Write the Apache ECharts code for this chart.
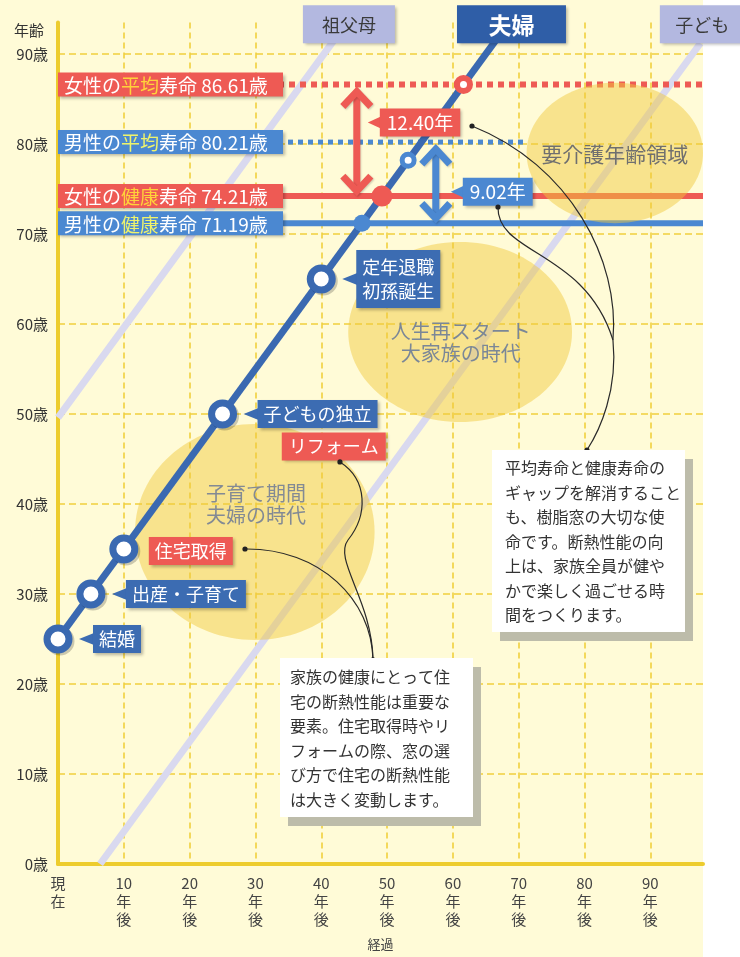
<!DOCTYPE html>
<html lang="ja">
<head>
<meta charset="utf-8">
<title>夫婦のライフステージと寿命</title>
<script src="https://cdn.jsdelivr.net/npm/echarts@6/dist/echarts.min.js"></script>
<style>
html, body { margin: 0; padding: 0; background: #fff; }
#chart { width: 740px; height: 957px; }
</style>
</head>
<body>
<div id="chart"></div>
<script>
// ---------- axis ticks ----------
const yearTicks = [0, 10, 20, 30, 40, 50, 60, 70, 80, 90];
const yearTickLabels = ['現\n在', '10\n年\n後', '20\n年\n後', '30\n年\n後', '40\n年\n後',
  '50\n年\n後', '60\n年\n後', '70\n年\n後', '80\n年\n後', '90\n年\n後'];
const ageTicks = [0, 10, 20, 30, 40, 50, 60, 70, 80, 90];

// ---------- generation lines: [years from now, age] ----------
const grandparentLine = [[0, 49.6], [42.5, 92.1]];
const coupleLine = [[0, 25], [67, 92]];
const childLine = [[6.4, 0], [97.6, 91.2]];
const generationNames = ['祖父母', '夫婦', '子ども'];

// ---------- couple's life events ----------
const eventYears = [0, 5, 10, 25, 40];
const eventAges = [25, 30, 35, 50, 65];
const eventNames = ['結婚', '出産・子育て', '住宅取得', '子どもの独立', '定年退職\n初孫誕生'];
const reformName = 'リフォーム';

// ---------- life expectancy (age) ----------
const lifeNames = ['女性の平均寿命', '男性の平均寿命', '女性の健康寿命', '男性の健康寿命'];
const lifeAges = [86.61, 80.21, 74.21, 71.19];
const gapYears = [12.40, 9.02]; // female, male

// ---------- marks where the couple line crosses the life lines ----------
const crossYears = [46.19, 49.21, 53.2, 61.61];
const crossAges = [71.19, 74.21, 78.2, 86.61];

// ---------- captions ----------
const zoneNames = ['要介護年齢領域', '人生再スタート\n大家族の時代', '子育て期間\n夫婦の時代'];
const noteLines1 = ['平均寿命と健康寿命の', 'ギャップを解消すること', 'も、樹脂窓の大切な使',
  '命です。断熱性能の向', '上は、家族全員が健や', 'かで楽しく過ごせる時', '間をつくります。'];
const noteLines2 = ['家族の健康にとって住', '宅の断熱性能は重要な', '要素。住宅取得時やリ',
  'フォームの際、窓の選', 'び方で住宅の断熱性能', 'は大きく変動します。'];

// ---------- layout & style ----------
const X_MAX = 98, Y_MAX = 93.5;
const FONT = '"Noto Sans CJK JP", "Noto Sans", sans-serif';
const C = {
  bg: '#fffbd7', grid: '#f1d03e', axis: '#edcc2d', couple: '#3a69b1', tag: '#3c6cb2',
  red: '#ee5a54', blue: '#4b88d1', lav: '#d9d9ef', lavTag: '#b3b8e0',
  zone: 'rgba(240,200,60,0.48)', ink: '#333'
};
const shadow = { shadowBlur: 3, shadowColor: 'rgba(0,0,0,0.28)', shadowOffsetX: 2, shadowOffsetY: 2 };

const zoneLayout = [
  { center: [84.6, 79.0], radius: [13.4, 7.8], text: [84.6, 78.9], size: 21, color: '#6f6f6f' },
  { center: [61.1, 59.1], radius: [17.0, 10.0], text: [61.2, 58.0], size: 20, color: '#7b8797' },
  { center: [29.9, 36.9], radius: [18.2, 12.0], text: [30.1, 40.0], size: 20, color: '#838a94' }
];
const arrowYears = [45.4, 57.4];
const gapLabelAges = [82.4, 74.7];
const gapLabelShift = [[11, 23], [15, 27]];
const reformAt = [34.0, 46.4];
const topTagAt = [[44.2, 93.3], [68.9, 93.3], [97.9, 93.3]];
const topTagWidth = [92, 109, 85];
const noteAt = [[65.94, 46.0], [33.73, 22.9]];
const noteSize = [[193, 182], [193, 159]];
const leaderCurves = [
  [[62.90, 82.0], [77.79, 77.67], [85.38, 67.11], [84.32, 58.22]],
  [[66.85, 73.0], [66.70, 67.67], [80.07, 68.22], [84.32, 58.22]],
  [[84.32, 58.22], [85.08, 52.67], [82.35, 48.22], [80.37, 46.0]],
  [[28.41, 35.0], [39.81, 35.11], [47.71, 29.33], [47.86, 22.67]],
  [[42.84, 44.67], [47.10, 42.67], [47.10, 38.78], [44.06, 36.0]],
  [[44.06, 36.0], [41.78, 33.78], [47.71, 29.33], [47.86, 22.67]]
];
const leaderDots = [[62.90, 82.0], [66.85, 73.0], [80.37, 46.0], [28.41, 35.0], [42.84, 44.67], [47.86, 22.67]];

const chart = echarts.init(document.getElementById('chart'));

function hLine(age, x1, color, width, type, z) {
  return {
    type: 'line', data: [[0, age], [x1, age]], symbol: 'none', silent: true, z,
    lineStyle: { color, width, type, cap: 'butt' }
  };
}

// soft zones with their captions
function renderZone(params, api) {
  const z = zoneLayout[params.dataIndex];
  const c = api.coord(z.center);
  const r = api.size(z.radius);
  const t = api.coord(z.text);
  return {
    type: 'group', children: [
      { type: 'ellipse', shape: { cx: c[0], cy: c[1], rx: r[0], ry: r[1] }, style: { fill: C.zone } },
      { type: 'text', style: { x: t[0], y: t[1], text: zoneNames[params.dataIndex], align: 'center',
        verticalAlign: 'middle', fill: z.color, font: `${z.size}px ${FONT}`, lineHeight: z.size + 2 } }
    ]
  };
}

// life-expectancy name plates on the left
function renderLifePlate(params, api) {
  const i = params.dataIndex;
  const p = api.coord([0, lifeAges[i]]);
  const female = i % 2 === 0;
  const name = lifeNames[i];
  const txt = `{w|${name.slice(0, 3)}}{h|${name.slice(3, 5)}}{w|${name.slice(5)} ${lifeAges[i].toFixed(2)}歳}`;
  return {
    type: 'group', children: [
      { type: 'rect', shape: { x: p[0], y: p[1] - 12, width: 225, height: 24 },
        style: Object.assign({ fill: female ? C.red : C.blue }, shadow) },
      { type: 'text', style: { x: p[0] + 6, y: p[1] + 1, text: txt, verticalAlign: 'middle',
        rich: {
          w: { fill: '#fff', fontSize: 19, fontFamily: FONT },
          h: { fill: female ? '#ffd23a' : '#eef36c', fontSize: 19, fontFamily: FONT }
        } } }
    ]
  };
}

function tagText(x, y, text, bg, size, pad) {
  return { type: 'text', style: Object.assign({ x, y, text, align: 'left', verticalAlign: 'middle',
    fill: '#fff', font: `${size}px ${FONT}`, lineHeight: 24, backgroundColor: bg, padding: pad }, shadow) };
}
function pointer(tipX, x, y, color) {
  return { type: 'polygon', shape: { points: [[tipX, y], [x + 1, y - 6], [x + 1, y + 6]] }, style: { fill: color } };
}

// couple event call-outs
function renderEvent(params, api) {
  const i = params.dataIndex;
  const p = api.coord([eventYears[i], eventAges[i]]);
  const plain = i === 2;
  const twoLines = eventNames[i].indexOf('\n') >= 0;
  const bx = p[0] + (plain ? 25 : 35);
  const by = p[1] + (plain ? 2 : 0);
  const kids = [];
  if (!plain) kids.push(pointer(p[0] + 21, bx, by, C.tag));
  kids.push(tagText(bx, by, eventNames[i], plain ? C.red : C.tag, 18, twoLines ? [5, 6] : [2, 6]));
  return { type: 'group', children: kids };
}

function renderReform(params, api) {
  const p = api.coord(reformAt);
  return tagText(p[0], p[1], reformName, C.red, 18, [2, 7]);
}

// double arrows for the gap between average and healthy life expectancy
function renderGap(params, api) {
  const i = params.dataIndex;
  const color = i === 0 ? C.red : C.blue;
  const top = api.coord([arrowYears[i], lifeAges[i]]);
  const bot = api.coord([arrowYears[i], lifeAges[i + 2]]);
  const x = top[0], y1 = top[1] + 7, y2 = bot[1] - 5;
  const lw = 7, hw = 14, hh = 15;
  const ly = api.coord([arrowYears[i], gapLabelAges[i]])[1];
  const sh = gapLabelShift[i];
  const line = (pts) => ({ type: 'polyline', shape: { points: pts },
    style: { stroke: color, lineWidth: lw, fill: null, lineJoin: 'miter',
      shadowBlur: 2, shadowColor: 'rgba(0,0,0,0.2)', shadowOffsetX: 1, shadowOffsetY: 1 } });
  return {
    type: 'group', children: [
      line([[x, y1 + 2], [x, y2 - 2]]),
      line([[x - hw, y1 + hh], [x, y1], [x + hw, y1 + hh]]),
      line([[x - hw, y2 - hh], [x, y2], [x + hw, y2 - hh]]),
      pointer(x + sh[0], x + sh[1], ly, color),
      tagText(x + sh[1], ly, gapYears[i].toFixed(2) + '年', color, 19, [2, 7])
    ]
  };
}

// generation name tags along the top
function renderTopTag(params, api) {
  const i = params.dataIndex;
  const p = api.coord(topTagAt[i]);
  const w = topTagWidth[i], h = 38;
  const main = i === 1;
  return {
    type: 'group', children: [
      { type: 'rect', shape: { x: p[0] - w / 2, y: p[1] - h / 2, width: w, height: h },
        style: Object.assign({ fill: main ? '#2f5ea7' : C.lavTag }, shadow) },
      { type: 'text', style: { x: p[0], y: p[1] + 1, text: generationNames[i], align: 'center', verticalAlign: 'middle',
        fill: main ? '#fff' : '#3a3a3a', font: `${main ? 'bold 23px' : '18px'} ${FONT}` } }
    ]
  };
}

// leader curves from the labels to the notes
function renderLeaders(params, api) {
  const kids = leaderCurves.map((seg) => {
    const q = seg.map((d) => api.coord(d));
    return { type: 'bezierCurve', shape: { x1: q[0][0], y1: q[0][1], cpx1: q[1][0], cpy1: q[1][1],
      cpx2: q[2][0], cpy2: q[2][1], x2: q[3][0], y2: q[3][1] },
      style: { stroke: '#2a2a2a', lineWidth: 1.2, fill: null } };
  });
  leaderDots.forEach((d) => {
    const q = api.coord(d);
    kids.push({ type: 'circle', shape: { cx: q[0], cy: q[1], r: 2.6 }, style: { fill: '#222' } });
  });
  return { type: 'group', children: kids };
}

// explanatory notes
function renderNote(params, api) {
  const i = params.dataIndex;
  const p = api.coord(noteAt[i]);
  const [w, h] = noteSize[i];
  const lines = i === 0 ? noteLines1 : noteLines2;
  return {
    type: 'group', children: [
      { type: 'rect', shape: { x: p[0] + 8, y: p[1] + 9, width: w, height: h }, style: { fill: '#bdbcaa' } },
      { type: 'rect', shape: { x: p[0], y: p[1], width: w, height: h }, style: { fill: '#fff' } },
      { type: 'text', style: { x: p[0] + (i === 0 ? 13 : 10), y: p[1] + (i === 0 ? 6 : 7), text: lines.join('\n'),
        fill: C.ink, font: `16px ${FONT}`, lineHeight: 24.5, verticalAlign: 'top' } }
    ]
  };
}

const idx = (arr) => arr.map((_, k) => [k, 0]);

// soft drop shadow under the round marks, kept separate so the ring stroke stays clean
const markShadow = { color: 'rgba(0,0,0,0.2)', borderWidth: 0, opacity: 1 };

const option = {
  backgroundColor: C.bg,
  animation: false,
  textStyle: { fontFamily: FONT },
  graphic: [{ type: 'rect', z: -10, silent: true, shape: { x: 703, y: 0, width: 37, height: 957 }, style: { fill: '#fff' } }],
  grid: { left: 58, right: 37, top: 22.5, bottom: 93, containLabel: false },
  xAxis: {
    type: 'value', min: 0, max: X_MAX,
    name: '経過', nameLocation: 'middle', nameGap: 74,
    nameTextStyle: { fontSize: 13, color: '#444', fontFamily: FONT },
    axisLine: { show: true, lineStyle: { color: C.axis, width: 4 } },
    axisTick: { show: false, customValues: yearTicks },
    axisLabel: {
      customValues: yearTicks, hideOverlap: false,
      formatter: (v) => { const k = yearTicks.indexOf(v); return k >= 0 ? yearTickLabels[k] : ''; },
      color: '#444', fontSize: 15, lineHeight: 18, margin: 10, verticalAlign: 'top', fontFamily: FONT
    },
    splitLine: { show: true, lineStyle: { color: C.grid, width: 1.6, type: [6, 4] } }
  },
  yAxis: {
    type: 'value', min: 0, max: Y_MAX,
    name: '年齢', nameLocation: 'end', nameGap: 0,
    nameTextStyle: { fontSize: 15, color: C.ink, align: 'right', verticalAlign: 'top', padding: [0, 14, 0, 0], fontFamily: FONT },
    axisLine: { show: true, lineStyle: { color: C.axis, width: 4 } },
    axisTick: { show: false, customValues: ageTicks },
    axisLabel: {
      customValues: ageTicks,
      formatter: (v) => (ageTicks.indexOf(v) >= 0 ? v + '歳' : ''),
      color: C.ink, fontSize: 15, margin: 10, fontFamily: FONT
    },
    splitLine: { show: true, lineStyle: { color: C.grid, width: 1.6, type: [7, 4] } }
  },
  series: [
    { type: 'line', data: grandparentLine, symbol: 'none', silent: true, z: 1, lineStyle: { color: C.lav, width: 7 } },
    { type: 'line', data: childLine, symbol: 'none', silent: true, z: 1, lineStyle: { color: C.lav, width: 7 } },
    hLine(lifeAges[0], X_MAX, C.red, 6, [6, 5], 1),
    hLine(lifeAges[1], 71.3, C.blue, 5, [5, 5], 1),
    hLine(lifeAges[2], X_MAX, C.red, 6, 'solid', 1),
    hLine(lifeAges[3], X_MAX, C.blue, 6, 'solid', 1),
    { type: 'custom', data: idx(zoneNames), renderItem: renderZone, silent: true, z: 2 },
    { type: 'line', data: coupleLine, symbol: 'none', silent: true, z: 3, lineStyle: { color: C.couple, width: 7 } },
    {
      type: 'scatter', z: 4, silent: true, clip: false,
      data: eventYears.map((x, k) => [x, eventAges[k]]),
      symbolSize: 29, symbolOffset: [2, 2], itemStyle: markShadow
    },
    {
      type: 'scatter', z: 4, silent: true, clip: false,
      data: eventYears.map((x, k) => [x, eventAges[k]]),
      symbolSize: 22,
      itemStyle: { color: '#fff', borderColor: C.couple, borderWidth: 7, opacity: 1 }
    },
    {
      type: 'scatter', z: 4, silent: true, clip: false,
      data: crossYears.map((x, k) => {
        const styles = [
          { size: 17, style: { color: C.blue, borderWidth: 0 } },
          { size: 21, style: { color: C.red, borderWidth: 0 } },
          { size: 12, style: { color: '#fff', borderColor: C.blue, borderWidth: 5 } },
          { size: 13, style: { color: '#fff', borderColor: C.red, borderWidth: 6 } }
        ][k];
        return { value: [x, crossAges[k]], symbolSize: styles.size, itemStyle: Object.assign({ opacity: 1 }, styles.style) };
      })
    },
    { type: 'custom', data: idx(lifeNames), renderItem: renderLifePlate, silent: true, z: 5 },
    { type: 'custom', data: idx(eventNames), renderItem: renderEvent, silent: true, z: 5 },
    { type: 'custom', data: [[0, 0]], renderItem: renderReform, silent: true, z: 5 },
    { type: 'custom', data: idx(gapYears), renderItem: renderGap, silent: true, z: 5 },
    { type: 'custom', data: idx(generationNames), renderItem: renderTopTag, silent: true, z: 6 },
    { type: 'custom', data: [[0, 0]], renderItem: renderLeaders, silent: true, z: 6 },
    { type: 'custom', data: [[0, 0], [1, 0]], renderItem: renderNote, silent: true, z: 7 }
  ]
};
chart.setOption(option);
</script>
</body>
</html>
